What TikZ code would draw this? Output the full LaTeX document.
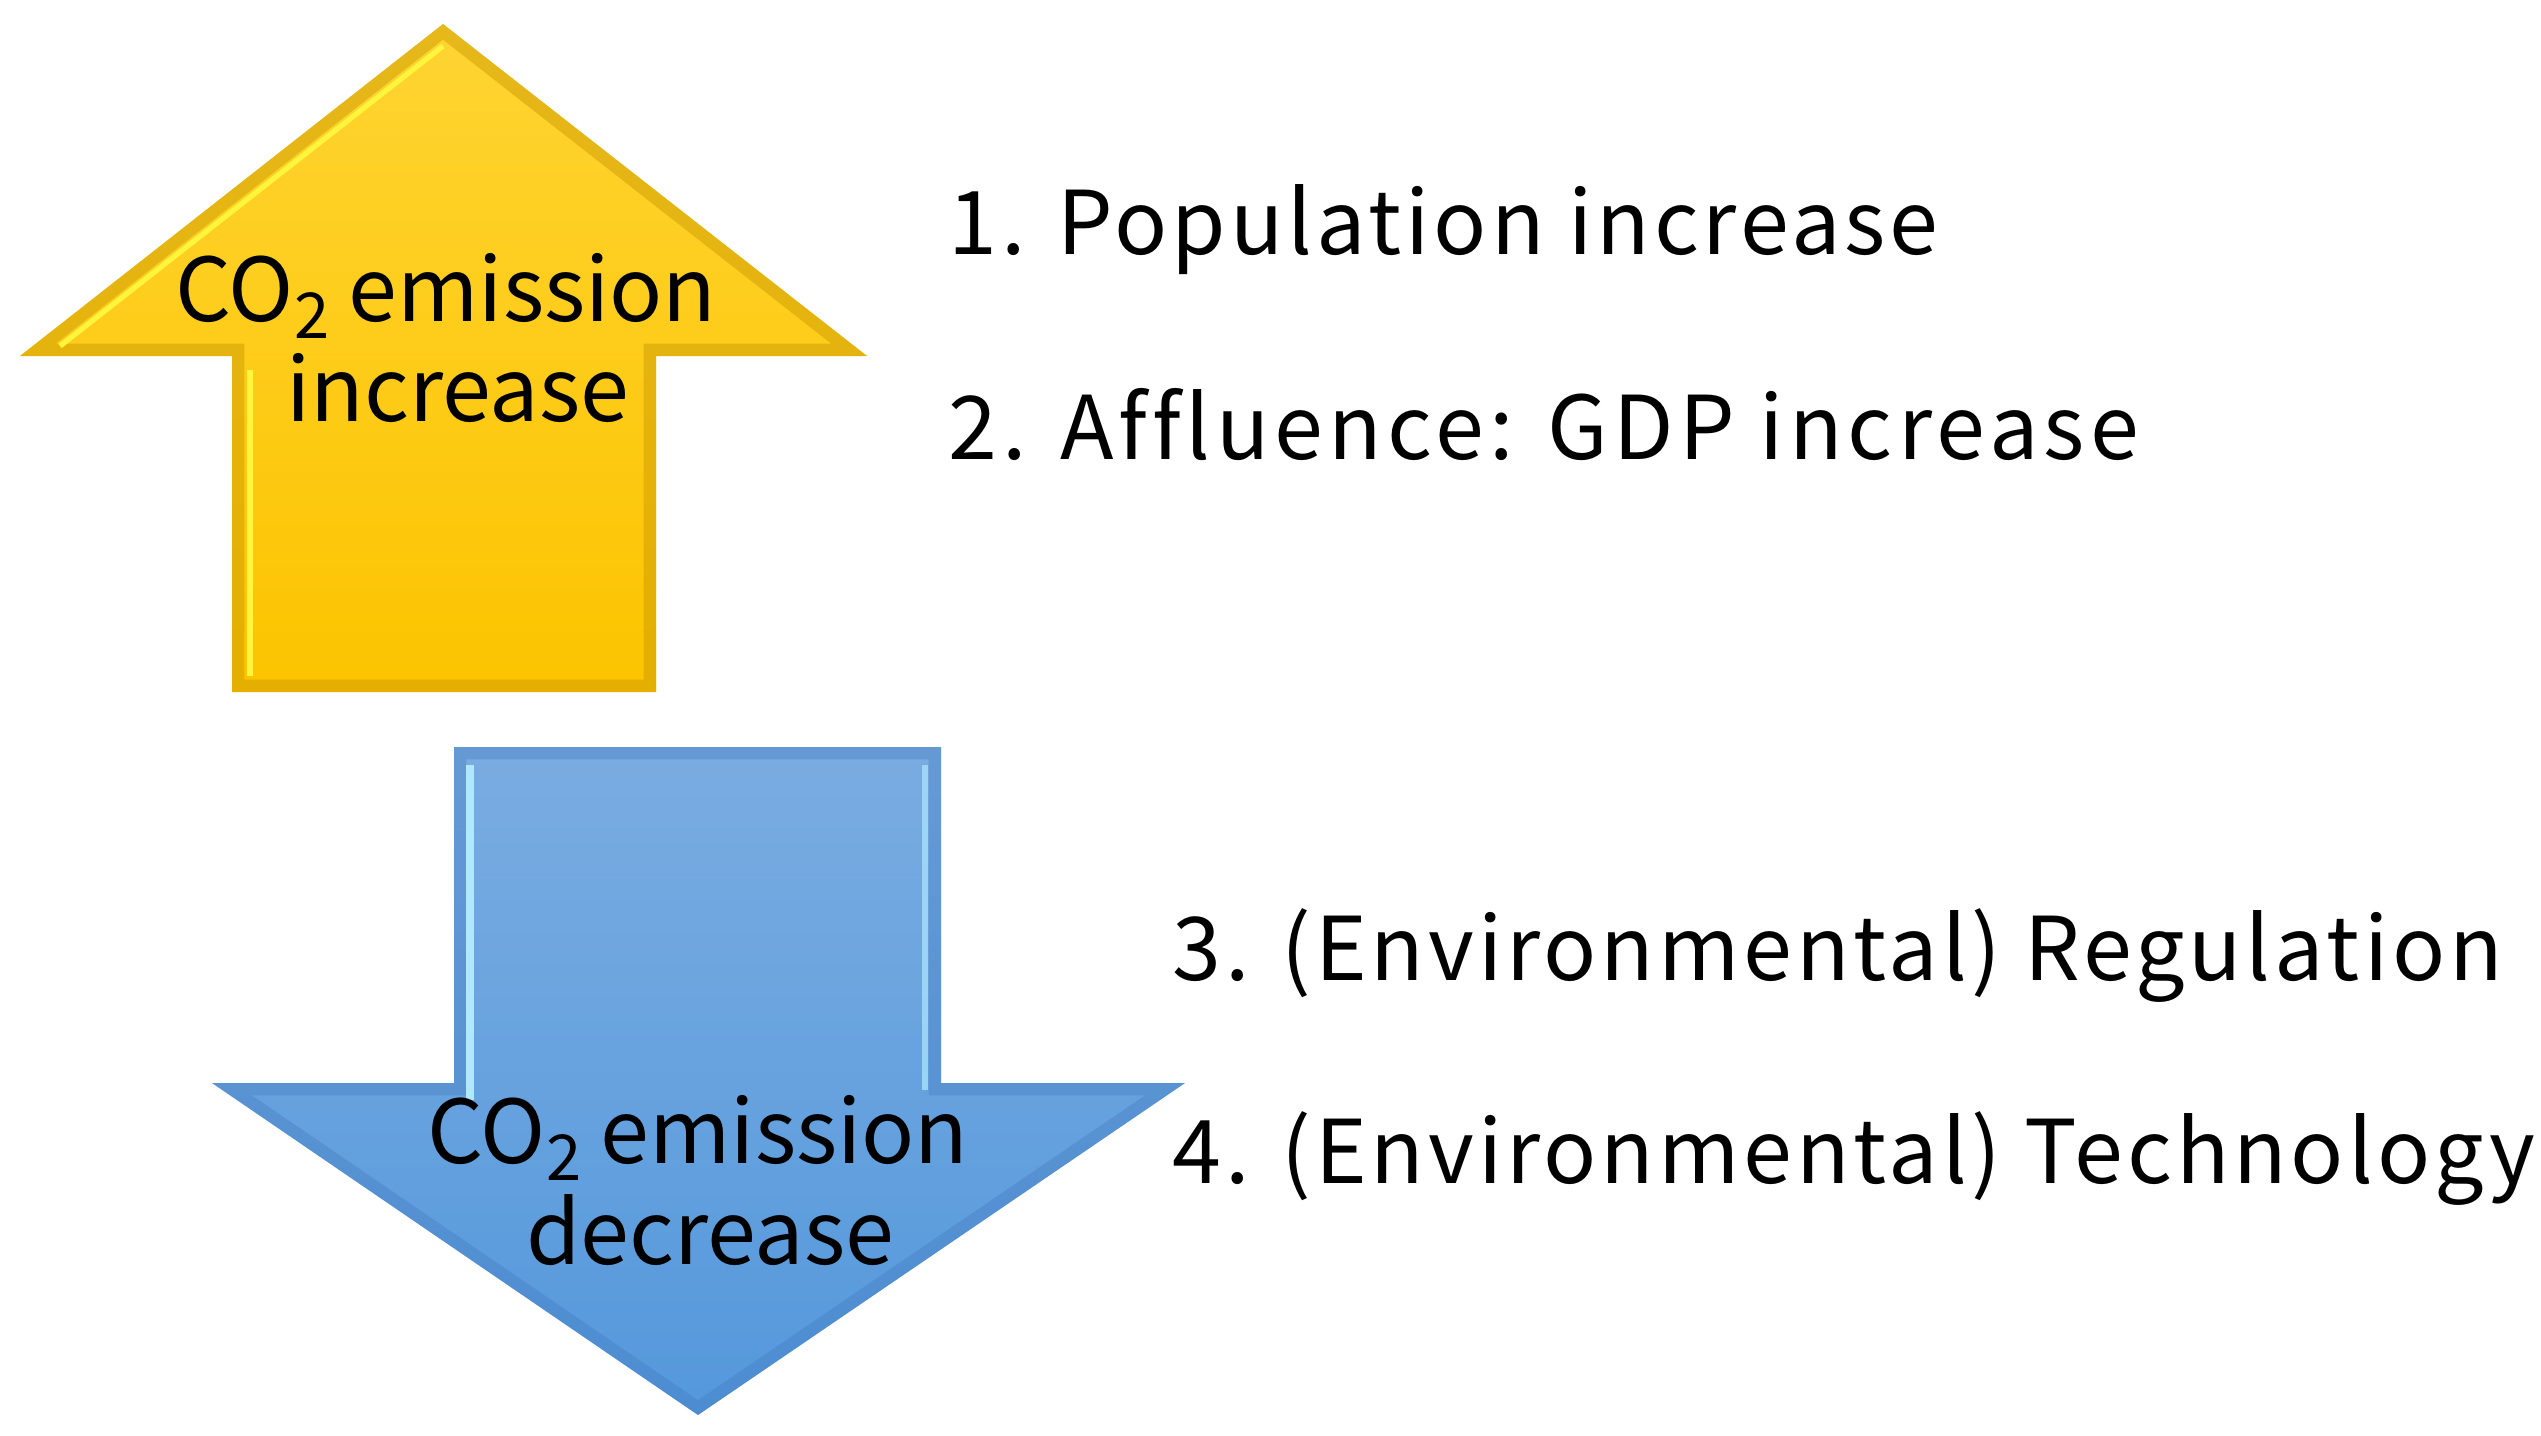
\documentclass[tikz,border=0pt]{standalone}
\usepackage{fontspec}
\setmainfont{Noto Sans CJK JP}
\definecolor{ytop}{RGB}{255,212,50}
\definecolor{ybot}{RGB}{252,196,0}
\definecolor{yedge}{RGB}{200,150,0}
\definecolor{yhi}{RGB}{255,245,60}
\definecolor{btop}{RGB}{122,172,225}
\definecolor{bbot}{RGB}{84,152,220}
\definecolor{bedge}{RGB}{64,120,190}
\definecolor{bhi}{RGB}{175,232,255}
\newcommand\subtwo{\raisebox{-5pt}{\fontsize{18}{18}\selectfont 2}}
\tikzset{
  lbl/.style={anchor=base, inner sep=0pt, font=\fontsize{25}{30}\selectfont},
  item/.style={anchor=base west, inner sep=0pt, font=\fontsize{25}{30}\selectfont\addfontfeatures{LetterSpace=4.5,Ligatures=NoCommon}},
  itemwide/.style={anchor=base west, inner sep=0pt, font=\fontsize{25}{30}\selectfont\addfontfeatures{LetterSpace=6,Ligatures=NoCommon}},
}
\begin{document}
\begin{tikzpicture}[x=0.01cm,y=-0.01cm]
\useasboundingbox (0,0) rectangle (2541,1436);
% up arrow
\coordinate (u1) at (443,24);
\coordinate (u2) at (867,356);
\coordinate (u3) at (656,356);
\coordinate (u4) at (656,692);
\coordinate (u5) at (232,692);
\coordinate (u6) at (232,356);
\coordinate (u7) at (20,356);
\begin{scope}
\clip (u1)--(u2)--(u3)--(u4)--(u5)--(u6)--(u7)--cycle;
\shade[top color=ytop,bottom color=ybot] (u1)--(u2)--(u3)--(u4)--(u5)--(u6)--(u7)--cycle;
\draw[line width=7pt,yedge,opacity=0.45,line join=miter] (u1)--(u2)--(u3)--(u4)--(u5)--(u6)--(u7)--cycle;
\draw[line width=1.5pt,yhi] (250,370)--(250,676);
\draw[line width=1.5pt,yhi] (60,346)--(443,46);
\end{scope}
% down arrow
\coordinate (d1) at (454,747);
\coordinate (d2) at (941,747);
\coordinate (d3) at (941,1083);
\coordinate (d4) at (1185,1083);
\coordinate (d5) at (698,1415);
\coordinate (d6) at (212,1083);
\coordinate (d7) at (454,1083);
\begin{scope}
\clip (d1)--(d2)--(d3)--(d4)--(d5)--(d6)--(d7)--cycle;
\shade[top color=btop,bottom color=bbot] (d1)--(d2)--(d3)--(d4)--(d5)--(d6)--(d7)--cycle;
\draw[line width=7pt,bedge,opacity=0.35,line join=miter] (d1)--(d2)--(d3)--(d4)--(d5)--(d6)--(d7)--cycle;
\draw[line width=2pt,bhi] (470,765)--(470,1100);
\draw[line width=1.5pt,bhi,opacity=0.7] (925,765)--(925,1090);
\end{scope}
% labels
\node[lbl] (ua) at (446,321) {CO\subtwo\ emission};
\node[lbl] (ub) at (458,421) {increase};
\node[lbl] (da) at (698,1163) {CO\subtwo\ emission};
\node[lbl] (db) at (710,1264) {decrease};
\node[item] (t1) at (948,254) {1. Population increase};
\node[itemwide] (t2) at (948,459) {2. Affluence: GDP increase};
\node[item] (t3) at (1172,980) {3. (Environmental) Regulation};
\node[item] (t4) at (1172,1183) {4. (Environmental) Technology};
\end{tikzpicture}
\end{document}
